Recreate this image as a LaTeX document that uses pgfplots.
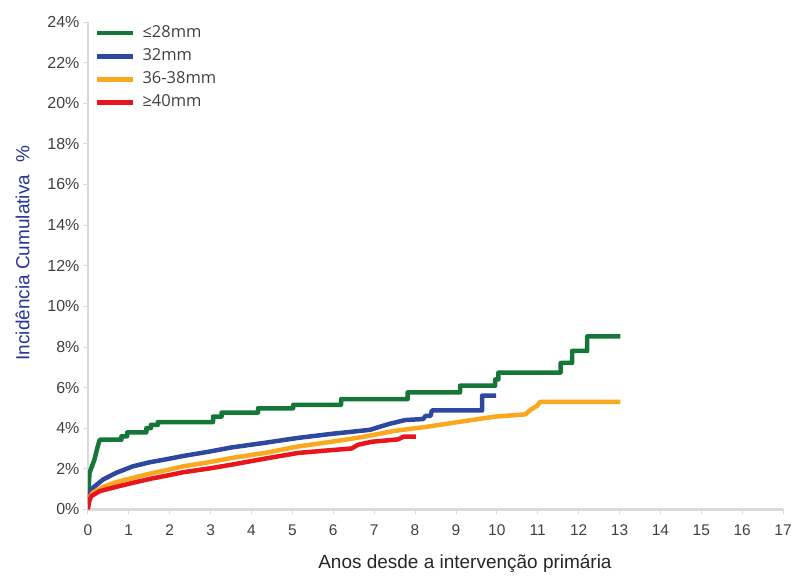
\documentclass[border=0pt]{standalone}
\usepackage{pgfplots}
\pgfplotsset{compat=1.18}
\usepackage{fontspec}
\setmainfont{Liberation Sans}
\newfontfamily\legfont{Open Sans}
\definecolor{cgreen}{RGB}{20,118,55}
\definecolor{cblue}{RGB}{46,72,160}
\definecolor{corange}{RGB}{250,168,30}
\definecolor{cred}{RGB}{232,22,28}
\definecolor{axgray}{RGB}{217,217,217}
\definecolor{txtgray}{RGB}{64,64,64}
\definecolor{ylab}{RGB}{38,52,150}
\begin{document}
\begin{tikzpicture}
\begin{axis}[name=ax, scale only axis, width=696bp, height=488bp,
 xmin=0,xmax=17,ymin=0,ymax=24,
 xtick={0,1,...,17}, ytick={0,2,...,24},
 axis x line*=bottom, axis y line*=left,
 axis line style={draw=axgray, line width=2.5bp},
 tick align=outside, major tick length=5bp,
 tick style={draw=axgray, line width=0.8bp},
 /pgf/number format/assume math mode=true,
 yticklabel={\pgfmathprintnumber{\tick}\%},
 ticklabel style={text=txtgray},
 xticklabel style={font=\fontsize{15.5bp}{18bp}\selectfont, yshift=-7bp},
 yticklabel style={font=\fontsize{16bp}{19bp}\selectfont},
 xlabel={Anos desde a intervenção primária},
 ylabel={Incidência Cumulativa\hspace{12bp}\%},
 xlabel style={font=\fontsize{19bp}{22bp}\selectfont, text=black!85, at={(axis description cs:0.5424,-0.121)}, anchor=base},
 ylabel style={font=\fontsize{19bp}{22bp}\selectfont, text=ylab, at={(axis description cs:-0.0842,0.5256)}, anchor=base},
 legend cell align=left,
 legend image code/.code={\draw[line width=4.5bp] (0bp,0bp) -- (36bp,0bp);},
 legend style={draw=none, fill=none, at={(axis description cs:0.0101,0.9918)}, anchor=north west,
   font=\legfont\fontsize{16.5bp}{19bp}\selectfont, text=txtgray, row sep=9.2bp, inner sep=0pt,
   nodes={inner sep=0pt, anchor=west, text height=11bp, text depth=3bp},
   /tikz/every odd column/.append style={column sep=7bp}},
 every axis plot/.append style={line width=4.5bp, line join=round},
]
\addplot[cgreen] coordinates {(0,0.5)(0.04,1.8)(0.16,2.45)(0.24,3.1)(0.29,3.43)(0.82,3.43)(0.82,3.6)(0.96,3.6)(0.96,3.79)(1.43,3.79)(1.43,4.0)(1.54,4.0)(1.54,4.16)(1.71,4.16)(1.71,4.3)(3.06,4.3)(3.06,4.57)(3.27,4.57)(3.27,4.77)(4.16,4.77)(4.16,4.98)(5.02,4.98)(5.02,5.15)(6.19,5.15)(6.19,5.43)(7.82,5.43)(7.82,5.76)(9.1,5.76)(9.1,6.09)(9.96,6.09)(9.96,6.4)(10.04,6.4)(10.04,6.74)(11.56,6.74)(11.56,7.21)(11.84,7.21)(11.84,7.8)(12.21,7.8)(12.21,8.52)(13.02,8.52)};
\addlegendentry{≤28mm}
\addplot[cblue] coordinates {(0,0.3)(0.03,0.75)(0.12,1.06)(0.37,1.47)(0.69,1.8)(1.1,2.12)(1.51,2.32)(1.92,2.47)(2.33,2.63)(2.98,2.85)(3.51,3.05)(4.33,3.28)(4.9,3.45)(5.14,3.52)(5.96,3.72)(6.53,3.84)(6.9,3.92)(7.35,4.2)(7.76,4.4)(8.2,4.45)(8.25,4.6)(8.38,4.6)(8.41,4.87)(9.64,4.87)(9.64,5.6)(9.98,5.6)};
\addlegendentry{32mm}
\addplot[corange] coordinates {(0,0.2)(0.04,0.6)(0.12,0.82)(0.37,1.11)(0.69,1.34)(1.1,1.55)(1.51,1.76)(1.92,1.93)(2.33,2.12)(2.98,2.33)(3.51,2.53)(4.33,2.78)(5.14,3.1)(5.96,3.33)(6.7,3.56)(7.51,3.87)(8.33,4.08)(9.15,4.33)(9.96,4.57)(10.7,4.68)(10.82,4.9)(10.98,5.09)(11.06,5.3)(13.02,5.3)};
\addlegendentry{36-38mm}
\addplot[cred] coordinates {(0,0)(0.03,0.4)(0.08,0.65)(0.29,0.9)(0.69,1.11)(1.1,1.31)(1.51,1.5)(1.92,1.66)(2.33,1.83)(2.98,2.02)(3.51,2.2)(4.33,2.5)(5.14,2.78)(5.96,2.92)(6.45,3.0)(6.6,3.18)(6.94,3.33)(7.59,3.45)(7.72,3.58)(8.02,3.58)};
\addlegendentry{≥40mm}
\end{axis}
\path (ax.south west) ++(-88bp,-64bp) rectangle ++(795bp,574bp);
\end{tikzpicture}
\end{document}
